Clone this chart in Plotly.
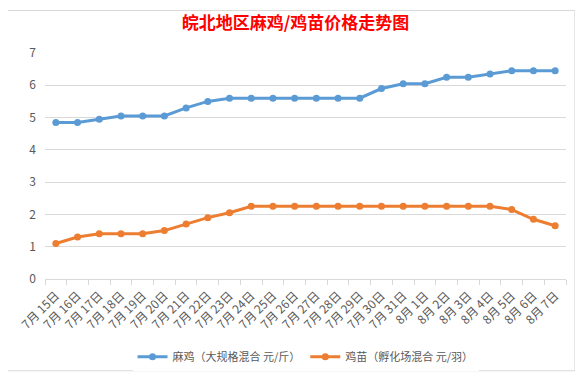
import plotly.graph_objects as go

dates = ["7月 15日", "7月 16日", "7月 17日", "7月 18日", "7月 19日", "7月 20日", "7月 21日", "7月 22日",
         "7月 23日", "7月 24日", "7月 25日", "7月 26日", "7月 27日", "7月 28日", "7月 29日", "7月 30日",
         "7月 31日", "8月 1日", "8月 2日", "8月 3日", "8月 4日", "8月 5日", "8月 6日", "8月 7日"]
maji = [4.85, 4.85, 4.95, 5.05, 5.05, 5.05, 5.3, 5.5, 5.6, 5.6, 5.6, 5.6, 5.6, 5.6, 5.6, 5.9,
        6.05, 6.05, 6.25, 6.25, 6.35, 6.45, 6.45, 6.45]
jimiao = [1.1, 1.3, 1.4, 1.4, 1.4, 1.5, 1.7, 1.9, 2.05, 2.25, 2.25, 2.25, 2.25, 2.25, 2.25, 2.25,
          2.25, 2.25, 2.25, 2.25, 2.25, 2.15, 1.85, 1.65]
name1 = "麻鸡（大规格混合 元/斤）"
name2 = "鸡苗（孵化场混合 元/羽）"
yticks = [0, 1, 2, 3, 4, 5, 6, 7]

font_family = "Noto Sans CJK SC, Noto Sans, sans-serif"

fig = go.Figure()
fig.add_trace(go.Scatter(x=dates, y=maji, name=name1, mode="lines+markers",
                         line=dict(color="#5b9bd5", width=3), marker=dict(size=7, color="#5b9bd5")))
fig.add_trace(go.Scatter(x=dates, y=jimiao, name=name2, mode="lines+markers",
                         line=dict(color="#ed7d31", width=3), marker=dict(size=7, color="#ed7d31")))

fig.update_layout(
    width=575, height=375,
    paper_bgcolor="white", plot_bgcolor="white",
    margin=dict(l=37, r=17, t=45, b=101),
    title=dict(text="<b>皖北地区麻鸡/鸡苗价格走势图</b>", x=0.5, xanchor="center", y=0.96, yanchor="middle",
               font=dict(family=font_family, size=17, color="#ff0000")),
    font=dict(family=font_family, size=11, color="#595959"),
    showlegend=True,
    legend=dict(orientation="h", x=0.5, xanchor="center", y=-0.28, yanchor="top",
                font=dict(size=11, color="#595959"), itemwidth=30, tracegroupgap=0),
    xaxis=dict(type="category", range=[-0.5, len(dates) - 0.5], tickangle=-45, showgrid=False,
               showline=True, linecolor="#d9d9d9",
               ticks="outside", tickson="boundaries", ticklen=5, tickcolor="#d9d9d9",
               automargin=False, ticklabelstandoff=4, tickfont=dict(size=12, color="#595959")),
    yaxis=dict(range=[0, 7], tickvals=yticks, showgrid=True, gridcolor="#d9d9d9", zeroline=False,
               showline=False, ticks="", automargin=False, ticklabelstandoff=8,
               tickfont=dict(size=12, color="#595959")),
    shapes=[dict(type="rect", xref="paper", yref="paper", x0=-0.08, x1=1.017, y0=-0.406, y1=1.188,
                 line=dict(color="#d9d9d9", width=1))],
)

fig.write_html("out.html")
